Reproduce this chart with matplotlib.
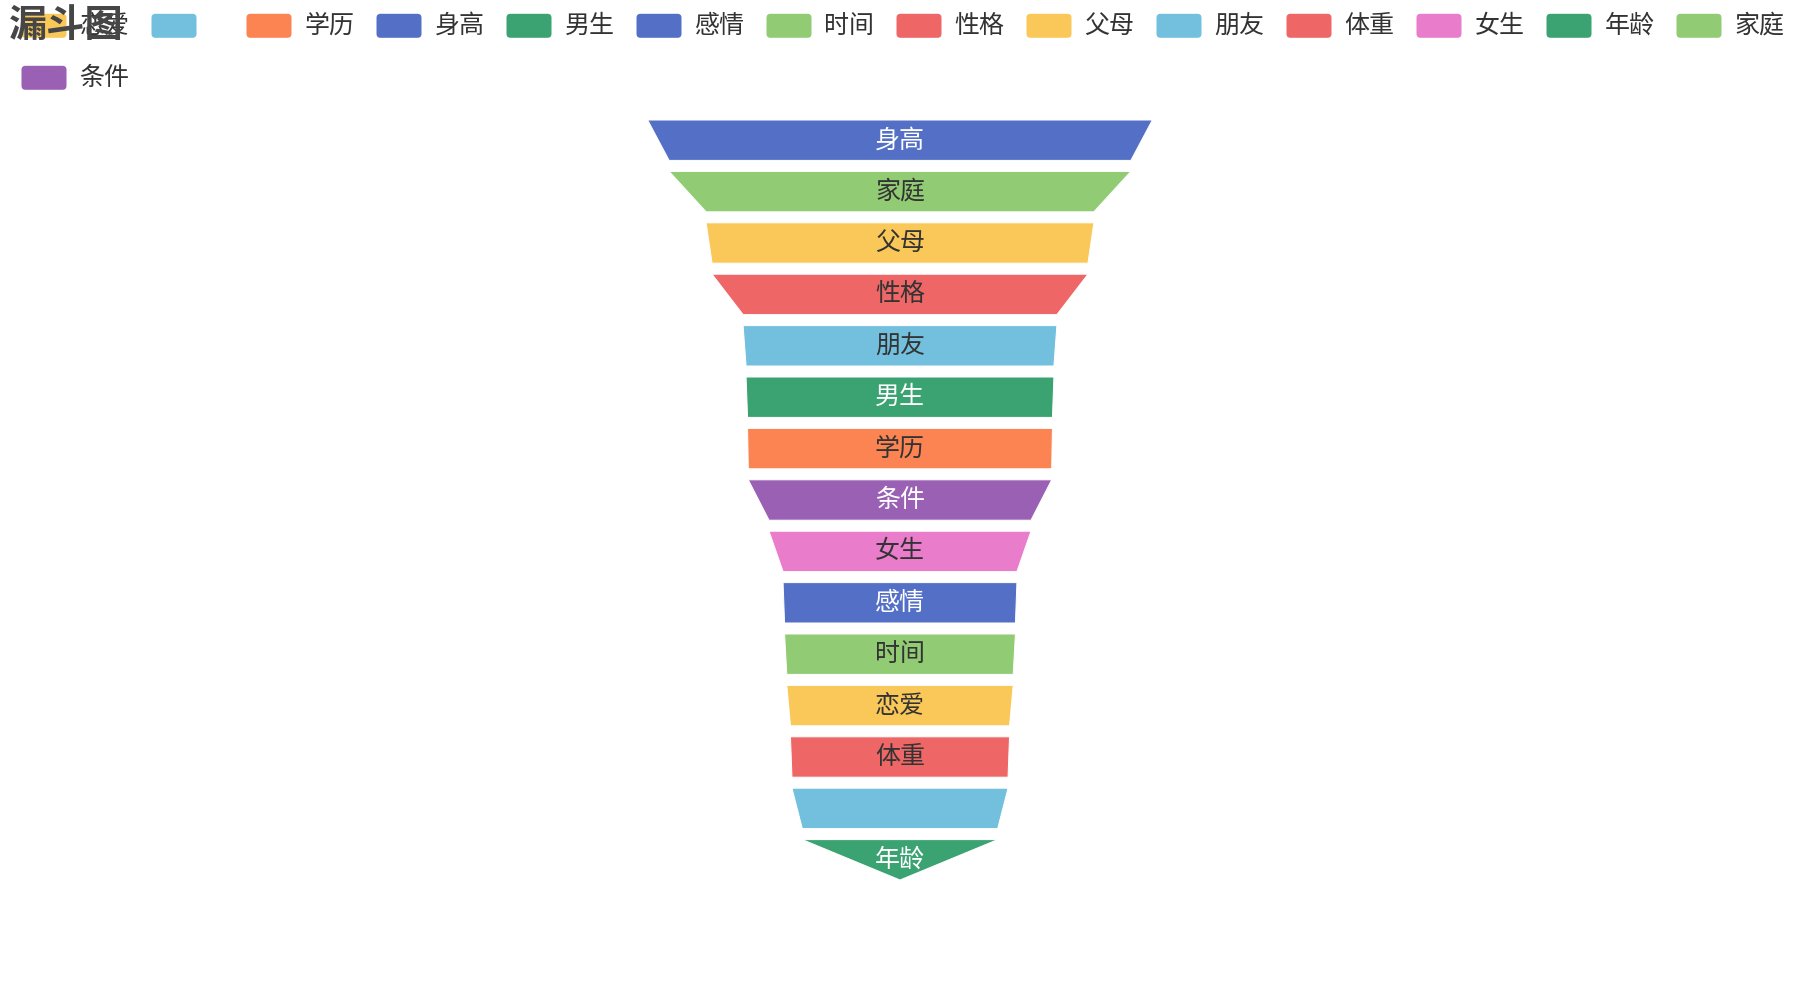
import matplotlib
matplotlib.use("Agg")
import matplotlib.pyplot as plt
from matplotlib.patches import Polygon, FancyBboxPatch

plt.rcParams["font.family"] = ["Noto Sans CJK SC", "DejaVu Sans"]

# funnel data, largest at the top
funnel_names = ["身高", "家庭", "父母", "性格", "朋友", "男生", "学历", "条件",
                "女生", "感情", "时间", "恋爱", "体重", "", "年龄"]
funnel_values = [34.1, 31.2, 26.2, 25.4, 21.2, 20.8, 20.6, 20.5,
                 17.7, 15.8, 15.6, 15.3, 14.8, 14.6, 13.2]
funnel_colors = ["#5470c6", "#91cc75", "#fac858", "#ee6666", "#73c0de",
                 "#3ba272", "#fc8452", "#9a60b4", "#ea7ccc", "#5470c6",
                 "#91cc75", "#fac858", "#ee6666", "#73c0de", "#3ba272"]

legend_names = ["恋爱", "", "学历", "身高", "男生", "感情", "时间", "性格",
                "父母", "朋友", "体重", "女生", "年龄", "家庭", "条件"]

title = "漏斗图"

W, H = 1800, 1000
fig = plt.figure(figsize=(W / 100, H / 100), dpi=100)
fig.patch.set_facecolor("white")


def is_dark(hex_color):
    r = int(hex_color[1:3], 16)
    g = int(hex_color[3:5], 16)
    b = int(hex_color[5:7], 16)
    return 0.299 * r + 0.587 * g + 0.114 * b < 135


# funnel area in pixels
f_left, f_right, f_top, f_bottom = 160, 1640, 120, 880
gap_px = 11
n = len(funnel_values)
pitch_px = (f_bottom - f_top + gap_px) / n
gf = gap_px / pitch_px

ax = fig.add_axes([f_left / W, 1 - f_bottom / H, (f_right - f_left) / W, (f_bottom - f_top) / H])
ax.set_xlim(-50, 50)
ax.set_ylim(n - gf, 0)
ax.axis("off")

for i, (name, val, color) in enumerate(zip(funnel_names, funnel_values, funnel_colors)):
    nxt = funnel_values[i + 1] if i + 1 < n else 0
    y0, y1 = i, i + 1 - gf
    poly = Polygon([(-val / 2, y0), (val / 2, y0), (nxt / 2, y1), (-nxt / 2, y1)],
                   closed=True, facecolor=color, edgecolor="white", linewidth=0.72)
    ax.add_patch(poly)
    if name:
        ax.text(0, (y0 + y1) / 2, name, ha="center", va="center", fontsize=18,
                color="white" if is_dark(color) else "#333333")

# legend + title, drawn in pixel coordinates
ov = fig.add_axes([0, 0, 1, 1])
ov.set_xlim(0, W)
ov.set_ylim(H, 0)
ov.axis("off")

color_of = dict(zip(funnel_names, funnel_colors))
icon_w, icon_h = 45, 24
text_gap, item_gap, char_w = 13, 25, 23.5
x, row_y = 21.5, 25.8
for name in legend_names:
    text_w = char_w * len(name) if name else 12
    item_w = icon_w + text_gap + text_w
    if x + item_w > W - 10:
        x = 21.5
        row_y += 52
    ov.add_patch(FancyBboxPatch((x, row_y - icon_h / 2), icon_w, icon_h,
                                boxstyle="round,pad=0,rounding_size=4",
                                facecolor=color_of[name], edgecolor="none"))
    if name:
        ov.text(x + icon_w + text_gap, row_y, name, ha="left", va="center",
                fontsize=18, color="#333333")
    x += item_w + item_gap

ov.text(9, 25.5, title, ha="left", va="center", fontsize=27.5, fontweight="bold",
        color="#464646", zorder=10)

fig.savefig("out.png", dpi=100)
